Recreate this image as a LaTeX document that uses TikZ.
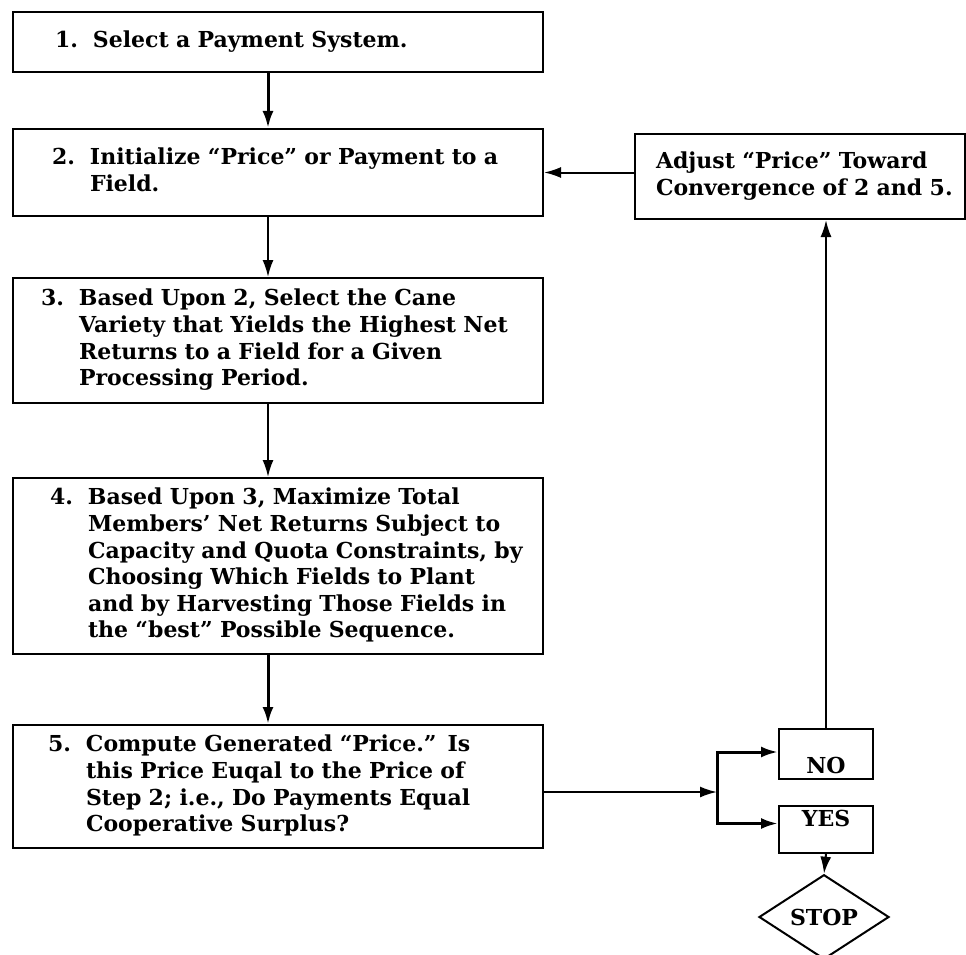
\documentclass[tikz,border=0pt]{standalone}
\usepackage{fontspec}
\setmainfont{DejaVu Serif}
\usetikzlibrary{arrows.meta,shapes.geometric,calc}

% number, then the lines of a step hanging beside it
\newcommand{\stepitem}[3]{\noindent\hspace*{#1}\makebox[38pt][l]{#2}\begin{tabular}[t]{@{}l@{}}#3\end{tabular}}

\tikzset{
	every node/.style={font=\fontsize{22pt}{26.6pt}\selectfont\bfseries},
	stepbox/.style={draw, line width=2pt, minimum width=530pt, text width=530pt,
		inner xsep=0pt, inner ysep=0pt, align=left, anchor=north west},
	adjbox/.style={stepbox, minimum width=330pt, text width=330pt},
	answer/.style={draw, line width=2pt, minimum width=94pt, inner sep=0pt},
	stopbox/.style={draw, diamond, line width=2pt, minimum width=130pt, minimum height=76pt, inner sep=0pt},
	link/.style={line width=2pt, -{Latex[length=17pt,width=11pt]}},
	thicklink/.style={link, line width=3pt}
}

\begin{document}
\begin{tikzpicture}[x=1pt,y=-1pt]
	\useasboundingbox (0,0) rectangle (966,955);
	% the five steps
	\node[stepbox, minimum height=60pt] (s1) at (12,11) {\stepitem{42pt}{1.}{Select a Payment System.}};
	\node[stepbox, minimum height=87pt] (s2) at (12,128) {\stepitem{39pt}{2.}{Initialize ``Price'' or Payment to a\\Field.}};
	\node[stepbox, minimum height=125pt] (s3) at (12,277) {\stepitem{28pt}{3.}{Based Upon 2, Select the Cane\\Variety that Yields the Highest Net\\Returns to a Field for a Given\\Processing Period.}};
	\node[stepbox, minimum height=176pt] (s4) at (12,477) {\stepitem{37pt}{4.}{Based Upon 3, Maximize Total\\Members' Net Returns Subject to\\Capacity and Quota Constraints, by\\Choosing Which Fields to Plant\\and by Harvesting Those Fields in\\the ``best'' Possible Sequence.}};
	\node[stepbox, minimum height=123pt] (s5) at (12,724) {\stepitem{35pt}{5.}{Compute Generated ``Price.'' Is\\this Price Euqal to the Price of\\Step 2; i.e., Do Payments Equal\\Cooperative Surplus?}};
	% right column
	\node[adjbox, minimum height=85pt] (adj) at (634,133) {\noindent\hspace*{21pt}\begin{tabular}[t]{@{}l@{}}Adjust ``Price'' Toward\\Convergence of 2 and 5.\end{tabular}};
	\node[answer, text height=44pt, text depth=6pt] (no) at (826,754) {NO};
	\node[answer, text height=20pt, text depth=27pt] (yes) at (826,829.5) {YES};
	\node[stopbox] (stop) at (824,917) {STOP};
	\coordinate (fork) at ($(s5.east)+(173,5.5)$);

	\draw[thicklink] ([xshift=-10pt]s1.south) -- ([xshift=-10pt]s2.north);
	\draw[link] ([xshift=-10pt]s2.south) -- ([xshift=-10pt]s3.north);
	\draw[link] ([xshift=-10pt]s3.south) -- ([xshift=-10pt]s4.north);
	\draw[thicklink] ([xshift=-10pt]s4.south) -- ([xshift=-10pt]s5.north);
	\draw[link] (adj.west |- s2.east) -- (s2.east);
	\draw[link] (no.north) -- (no.north |- adj.south);
	\draw[link] (s5.east |- fork) -- (fork);
	\draw[thicklink] (fork) |- ([yshift=2pt]no.west);
	\draw[thicklink] (fork) |- ([yshift=6pt]yes.west);
	\draw[link] (yes.south) -- (stop.north);
\end{tikzpicture}
\end{document}
